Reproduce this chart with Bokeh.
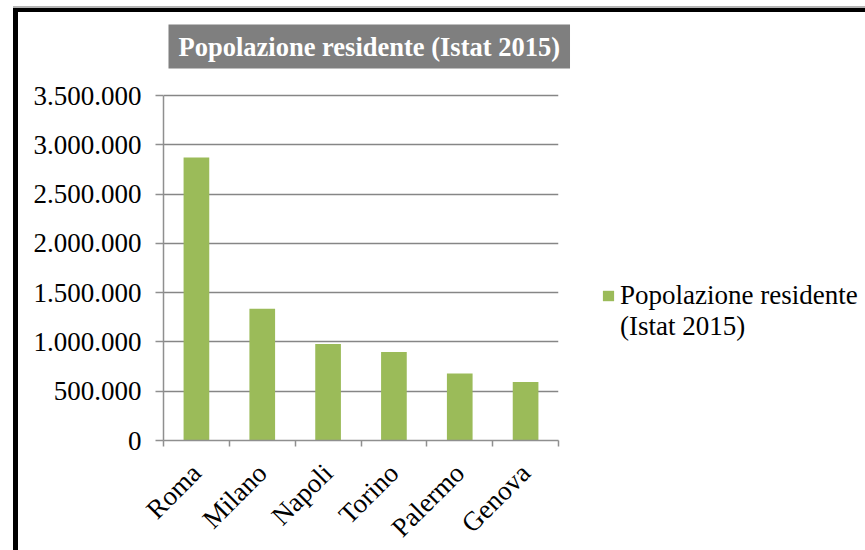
from math import pi
from bokeh.plotting import figure
from bokeh.models import Range1d, FixedTicker, Legend, LegendItem, ColumnDataSource
from bokeh.embed import file_html
from bokeh.resources import INLINE

# ---- data ----
cities = ["Roma", "Milano", "Napoli", "Torino", "Palermo", "Genova"]
population = [2872021, 1337155, 978399, 896773, 678492, 592507]
y_ticks = [0, 500000, 1000000, 1500000, 2000000, 2500000, 3000000, 3500000]
y_tick_labels = ["0", "500.000", "1.000.000", "1.500.000", "2.000.000",
                 "2.500.000", "3.000.000", "3.500.000"]
title_text = "Popolazione residente (Istat 2015)"
legend_lines = ["Popolazione residente", "(Istat 2015)"]

FONT = "Liberation Serif"
BAR = "#9BBB59"
GRID = "#868686"
AXIS = "#8f8f8f"

# layout (pixels)
TOP = 66            # canvas y of frame top
DATA_H = 345        # pixels from 0 to the top tick
FRAME_H = 428 - TOP
y_top = y_ticks[-1]
y_end = y_top * FRAME_H / DATA_H

p = figure(frame_width=395, frame_height=FRAME_H, output_backend="svg",
           toolbar_location=None,
           x_range=Range1d(0, len(cities)), y_range=Range1d(0, y_end),
           min_border_left=145, min_border_right=5,
           min_border_top=TOP, min_border_bottom=110)
p.styles = {"margin-left": "13px", "margin-top": "8px",
            "border-left": "5px solid black", "border-top": "4px solid black",
            "box-shadow": "0 -2px 0 0 #b4b4b4"}
p.outline_line_color = None
p.background_fill_color = "white"
p.border_fill_color = "white"

xs = [i + 0.5 for i in range(len(cities))]
source = ColumnDataSource(dict(x=xs, city=cities, pop=population))
r = p.vbar(x="x", top="pop", bottom=0, width=0.39, source=source,
           fill_color=BAR, line_color=None)
ghost = p.vbar(x=[], top=[], width=0.39, fill_alpha=0, line_alpha=0)

# grid
p.xgrid.visible = False
p.ygrid.ticker = FixedTicker(ticks=y_ticks)
p.ygrid.grid_line_color = GRID
p.ygrid.grid_line_width = 1.5

# y axis
ya = p.yaxis[0]
ya.bounds = (0, y_top)
ya.ticker = FixedTicker(ticks=y_ticks)
ya.major_label_overrides = {t: l for t, l in zip(y_ticks, y_tick_labels)}
ya.axis_line_color = AXIS
ya.axis_line_width = 1.5
ya.major_tick_line_color = AXIS
ya.major_tick_line_width = 1.5
ya.major_tick_out = 8
ya.major_tick_in = 0
ya.minor_tick_line_color = None
ya.major_label_text_font = FONT
ya.major_label_text_font_size = "27px"
ya.major_label_text_color = "black"
ya.major_label_standoff = 14

# x axis
xa = p.xaxis[0]
xa.ticker = FixedTicker(ticks=xs, minor_ticks=list(range(len(cities) + 1)))
xa.major_label_overrides = {x: c for x, c in zip(xs, cities)}
xa.axis_line_color = AXIS
xa.axis_line_width = 1.5
xa.major_tick_line_color = None
xa.major_tick_out = 0
xa.major_tick_in = 0
xa.minor_tick_line_color = AXIS
xa.minor_tick_line_width = 1.5
xa.minor_tick_out = 6
xa.minor_tick_in = 0
xa.major_label_orientation = pi / 4
xa.major_label_text_font = FONT
xa.major_label_text_font_size = "27px"
xa.major_label_text_color = "black"
xa.major_label_standoff = 22

# title
p.title.text = title_text
p.title.text_font = FONT
p.title.text_font_size = "26.5px"
p.title.text_font_style = "bold"
p.title.text_color = "white"
p.title.background_fill_color = "#7f7f7f"
p.title.align = "left"
p.title.offset = 5
p.title.standoff = 20
p.title.padding = (10, 7)

# legend
legend = Legend(items=[LegendItem(label=legend_lines[0], renderers=[r]),
                       LegendItem(label=legend_lines[1], renderers=[ghost])],
                location=(43, 98), padding=0, margin=0, spacing=0,
                border_line_color=None, background_fill_alpha=0,
                glyph_width=14, glyph_height=13, label_standoff=5,
                label_height=29,
                label_text_font=FONT, label_text_font_size="27px",
                label_text_color="black")
p.add_layout(legend, "right")

open("out.html", "w").write(file_html(p, INLINE))
